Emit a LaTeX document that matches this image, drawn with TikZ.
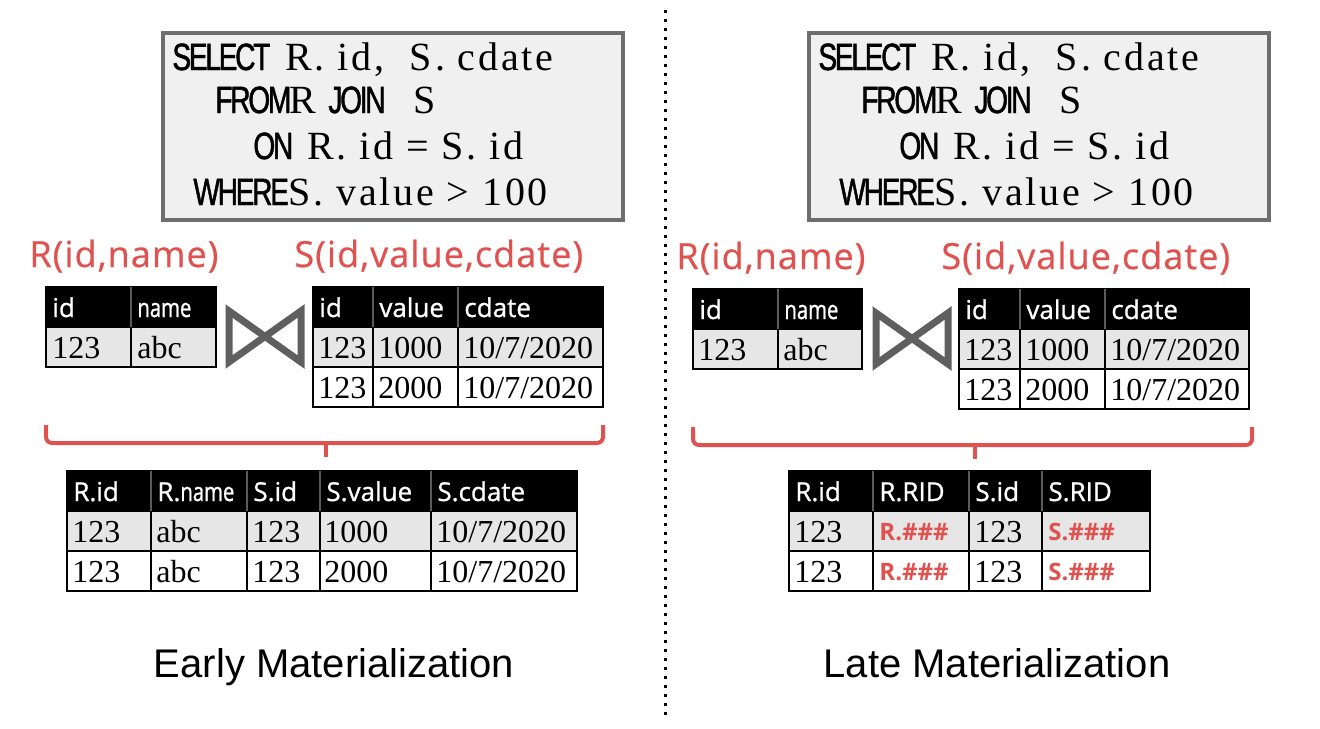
\documentclass[tikz,border=0pt]{standalone}
\usepackage{fontspec}
\setmainfont{Liberation Serif}
\newfontfamily\kwfont[FakeStretch=0.74,LetterSpace=-6,FakeBold=1.2]{Liberation Sans}
\newfontfamily\sqlfont[LetterSpace=7]{Liberation Serif}
\newfontfamily\lblfont[LetterSpace=3,FakeBold=0.6]{Open Sans}
\newfontfamily\hdrfont[FakeBold=1]{Open Sans}
\newfontfamily\hdrcond[FakeBold=1,FakeStretch=0.78]{Open Sans}
\newfontfamily\ridfont{Open Sans}
\newfontfamily\capfont{Liberation Sans}

\definecolor{redish}{RGB}{224,82,80}
\definecolor{boxfill}{RGB}{240,240,240}
\definecolor{boxline}{RGB}{110,110,110}
\definecolor{rowgray}{RGB}{230,230,230}
\definecolor{joingray}{RGB}{95,95,95}
\definecolor{hdrline}{RGB}{90,90,90}

\tikzset{
	sqlbox/.style={fill=boxfill, draw=boxline, line width=2pt},
	kw/.style={anchor=base west, inner sep=0, font=\kwfont\fontsize{19}{19}\selectfont},
	sql/.style={anchor=base west, inner sep=0, font=\sqlfont\fontsize{20}{20}\selectfont},
	rel/.style={anchor=base west, inner sep=0, text=redish, font=\lblfont\fontsize{18}{18}\selectfont},
	headrow/.style={fill=black, draw=black, line width=1pt},
	grayrow/.style={fill=rowgray, draw=black, line width=1pt},
	whiterow/.style={fill=white, draw=black, line width=1pt},
	hsep/.style={draw=hdrline, line width=0.6pt},
	csep/.style={draw=black, line width=1pt},
	htxt/.style={anchor=base west, inner sep=0, text=white, font=\hdrfont\fontsize{13}{13}\selectfont},
	ctxt/.style={anchor=base west, inner sep=0, font=\fontsize{16}{16}\selectfont},
	rid/.style={anchor=base west, inner sep=0, text=redish, font=\ridfont\bfseries\fontsize{12}{12}\selectfont},
	brace/.style={draw=redish, line width=2pt, rounded corners=3pt},
	bowtie/.style={draw=joingray, line width=3.5pt, line join=miter},
	caption/.style={anchor=base, inner sep=0, font=\capfont\fontsize{20}{20}\selectfont},
	divider/.style={draw=black, line width=1.5pt, dash pattern=on 1.5pt off 3pt}
}

\begin{document}
\begin{tikzpicture}[x=0.5pt, y=-0.5pt]
	\useasboundingbox (0,0) rectangle (1320,728);

	% ---- early materialization (left) ----
	\path[sqlbox] (163,33) rectangle (623,220);
	\node[kw] (e-select) at (172,70) {SELECT};
	\node[sql] (e-cols) at (285,70) {R. id,\ \ S. cdate};
	\node[kw] (e-from) at (215,113) {FROM};
	\node[sql] (e-r) at (289,113) {R};
	\node[kw] (e-join) at (328,113) {JOIN};
	\node[sql] (e-s) at (413,113) {S};
	\node[kw] (e-on) at (253,159) {ON};
	\node[sql] (e-cond) at (307,159) {R. id = S. id};
	\node[kw] (e-where) at (193,205) {WHERE};
	\node[sql] (e-pred) at (288,205) {S. value > 100};

	\node[rel] (e-rlbl) at (29,267) {R(id,name)};
	\node[rel] (e-slbl) at (294,267) {S(id,value,cdate)};

	% R table
	\path[headrow] (46,287) rectangle (216,327);
	\path[grayrow] (46,327) rectangle (216,367);
	\draw[hsep] (131,287) -- (131,327);
	\draw[csep] (131,327) -- (131,367);
	\node[htxt] (e-r-h1) at (52,317) {id};
	\node[htxt] (e-r-h2) at (137,317) {\hdrcond name};
	\node[ctxt] (e-r-d1) at (52,358) {123};
	\node[ctxt] (e-r-d2) at (137,358) {abc};

	% join
	\draw[bowtie] (229,311) -- (301,362) -- (301,311) -- (229,362) -- cycle;

	% S table
	\path[headrow] (313,287) rectangle (603,327);
	\path[grayrow] (313,327) rectangle (603,367);
	\path[whiterow] (313,367) rectangle (603,407);
	\draw[hsep] (373,287) -- (373,327);
	\draw[hsep] (458,287) -- (458,327);
	\draw[csep] (373,327) -- (373,407);
	\draw[csep] (458,327) -- (458,407);
	\node[htxt] (e-s-h1) at (319,317) {id};
	\node[htxt] (e-s-h2) at (379,317) {value};
	\node[htxt] (e-s-h3) at (464,317) {cdate};
	\node[ctxt] (e-s-a1) at (318,358) {123};
	\node[ctxt] (e-s-a2) at (378,358) {1000};
	\node[ctxt] (e-s-a3) at (463,358) {10/7/2020};
	\node[ctxt] (e-s-b1) at (318,398) {123};
	\node[ctxt] (e-s-b2) at (378,398) {2000};
	\node[ctxt] (e-s-b3) at (463,398) {10/7/2020};

	% brace
	\coordinate (e-bl) at (46,425);
	\coordinate (e-bm) at (326,443);
	\coordinate (e-bt) at (326,457);
	\coordinate (e-br) at (603,425);
	\draw[brace] (e-bl) |- (e-bm) -| (e-br);
	\draw[brace] (e-bm) -- (e-bt);

	% result
	\path[headrow] (67,471) rectangle (577,511);
	\path[grayrow] (67,511) rectangle (577,551);
	\path[whiterow] (67,551) rectangle (577,591);
	\draw[hsep] (151,471) -- (151,511);
	\draw[hsep] (247,471) -- (247,511);
	\draw[hsep] (320,471) -- (320,511);
	\draw[hsep] (431,471) -- (431,511);
	\draw[csep] (151,511) -- (151,591);
	\draw[csep] (247,511) -- (247,591);
	\draw[csep] (320,511) -- (320,591);
	\draw[csep] (431,511) -- (431,591);
	\node[htxt] (e-j-h1) at (73,501) {R.id};
	\node[htxt] (e-j-h2) at (157,501) {R.\hdrcond name};
	\node[htxt] (e-j-h3) at (253,501) {S.id};
	\node[htxt] (e-j-h4) at (326,501) {S.value};
	\node[htxt] (e-j-h5) at (437,501) {S.cdate};
	\node[ctxt] (e-j-a1) at (72,542) {123};
	\node[ctxt] (e-j-a2) at (156,542) {abc};
	\node[ctxt] (e-j-a3) at (252,542) {123};
	\node[ctxt] (e-j-a4) at (324,542) {1000};
	\node[ctxt] (e-j-a5) at (436,542) {10/7/2020};
	\node[ctxt] (e-j-b1) at (72,582) {123};
	\node[ctxt] (e-j-b2) at (156,582) {abc};
	\node[ctxt] (e-j-b3) at (252,582) {123};
	\node[ctxt] (e-j-b4) at (324,582) {2000};
	\node[ctxt] (e-j-b5) at (436,582) {10/7/2020};

	\node[caption] (e-title) at (334,677) {Early Materialization};

	% ---- divider ----
	\draw[divider] (665,10) -- (665,716);

	% ---- late materialization (right) ----
	\path[sqlbox] (809,33) rectangle (1269,220);
	\node[kw] (l-select) at (818,70) {SELECT};
	\node[sql] (l-cols) at (931,70) {R. id,\ \ S. cdate};
	\node[kw] (l-from) at (861,113) {FROM};
	\node[sql] (l-r) at (935,113) {R};
	\node[kw] (l-join) at (974,113) {JOIN};
	\node[sql] (l-s) at (1059,113) {S};
	\node[kw] (l-on) at (899,159) {ON};
	\node[sql] (l-cond) at (953,159) {R. id = S. id};
	\node[kw] (l-where) at (839,205) {WHERE};
	\node[sql] (l-pred) at (934,205) {S. value > 100};

	\node[rel] (l-rlbl) at (676,269) {R(id,name)};
	\node[rel] (l-slbl) at (941,269) {S(id,value,cdate)};

	% R table
	\path[headrow] (693,289) rectangle (862,329);
	\path[grayrow] (693,329) rectangle (862,369);
	\draw[hsep] (778,289) -- (778,329);
	\draw[csep] (778,329) -- (778,369);
	\node[htxt] (l-r-h1) at (699,319) {id};
	\node[htxt] (l-r-h2) at (784,319) {\hdrcond name};
	\node[ctxt] (l-r-d1) at (698,360) {123};
	\node[ctxt] (l-r-d2) at (783,360) {abc};

	% join
	\draw[bowtie] (876,313) -- (948,364) -- (948,313) -- (876,364) -- cycle;

	% S table
	\path[headrow] (959,289) rectangle (1249,329);
	\path[grayrow] (959,329) rectangle (1249,369);
	\path[whiterow] (959,369) rectangle (1249,409);
	\draw[hsep] (1020,289) -- (1020,329);
	\draw[hsep] (1105,289) -- (1105,329);
	\draw[csep] (1020,329) -- (1020,409);
	\draw[csep] (1105,329) -- (1105,409);
	\node[htxt] (l-s-h1) at (965,319) {id};
	\node[htxt] (l-s-h2) at (1026,319) {value};
	\node[htxt] (l-s-h3) at (1111,319) {cdate};
	\node[ctxt] (l-s-a1) at (964,360) {123};
	\node[ctxt] (l-s-a2) at (1025,360) {1000};
	\node[ctxt] (l-s-a3) at (1110,360) {10/7/2020};
	\node[ctxt] (l-s-b1) at (964,400) {123};
	\node[ctxt] (l-s-b2) at (1025,400) {2000};
	\node[ctxt] (l-s-b3) at (1110,400) {10/7/2020};

	% brace
	\coordinate (l-bl) at (693,427);
	\coordinate (l-bm) at (975,445);
	\coordinate (l-bt) at (975,459);
	\coordinate (l-br) at (1252,427);
	\draw[brace] (l-bl) |- (l-bm) -| (l-br);
	\draw[brace] (l-bm) -- (l-bt);

	% result
	\path[headrow] (789,471) rectangle (1150,511);
	\path[grayrow] (789,511) rectangle (1150,551);
	\path[whiterow] (789,551) rectangle (1150,591);
	\draw[hsep] (873,471) -- (873,511);
	\draw[hsep] (969,471) -- (969,511);
	\draw[hsep] (1042,471) -- (1042,511);
	\draw[csep] (873,511) -- (873,591);
	\draw[csep] (969,511) -- (969,591);
	\draw[csep] (1042,511) -- (1042,591);
	\node[htxt] (l-j-h1) at (795,501) {R.id};
	\node[htxt] (l-j-h2) at (879,501) {R.RID};
	\node[htxt] (l-j-h3) at (975,501) {S.id};
	\node[htxt] (l-j-h4) at (1048,501) {S.RID};
	\node[ctxt] (l-j-a1) at (794,542) {123};
	\node[rid] (l-j-a2) at (879,540) {R.\#\#\#};
	\node[ctxt] (l-j-a3) at (974,542) {123};
	\node[rid] (l-j-a4) at (1048,540) {S.\#\#\#};
	\node[ctxt] (l-j-b1) at (794,582) {123};
	\node[rid] (l-j-b2) at (879,580) {R.\#\#\#};
	\node[ctxt] (l-j-b3) at (974,582) {123};
	\node[rid] (l-j-b4) at (1048,580) {S.\#\#\#};

	\node[caption] (l-title) at (997,677) {Late Materialization};
\end{tikzpicture}
\end{document}
